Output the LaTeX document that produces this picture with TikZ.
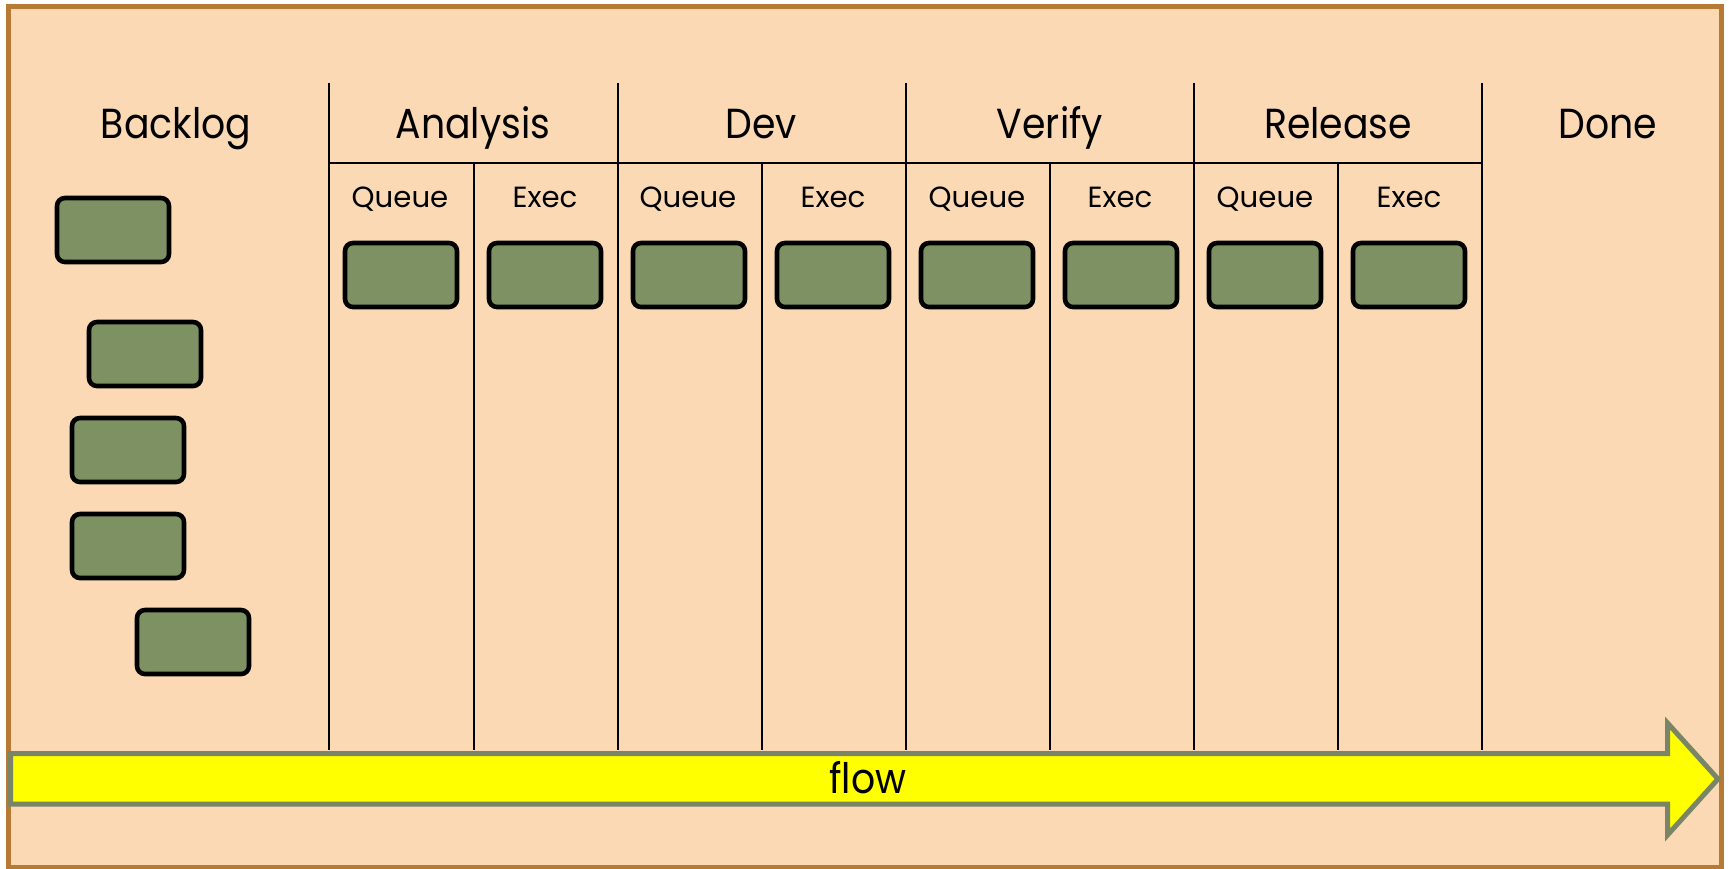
\documentclass[tikz,border=0pt]{standalone}
\usepackage{fontspec}
\setmainfont{Poppins}
\newfontfamily\stagefont[FakeStretch=0.9]{Poppins}
\definecolor{boardfill}{HTML}{FAD9B4}
\definecolor{boardline}{HTML}{B67A35}
\definecolor{cardfill}{HTML}{7E9163}
\definecolor{flowline}{HTML}{7A8566}
\definecolor{flowfill}{HTML}{FFFF00}
\tikzset{card/.style={draw,rounded corners=4pt,fill=cardfill,line width=2.3pt,minimum width=56pt,minimum height=32pt,inner sep=0pt}}
\tikzset{stage/.style={font=\stagefont\fontsize{21}{25}\selectfont,anchor=base,inner sep=0pt}}
\tikzset{sub/.style={font=\fontsize{14.6}{17}\selectfont,anchor=base,inner sep=0pt}}
\tikzset{lane/.style={line width=1pt}}

\begin{document}
\begin{tikzpicture}[x=0.5pt,y=-0.5pt]
        \useasboundingbox[fill=white] (0,0) rectangle (1729,868);
        \draw[boardline,fill=boardfill,line width=2.5pt] (8.5,6.5) rectangle (1721,867);

        % lanes
        \draw[lane] (328.5,83) -- (328.5,750);
        \draw[lane] (474,163) -- (474,750);
        \draw[lane] (617.5,83) -- (617.5,750);
        \draw[lane] (762,163) -- (762,750);
        \draw[lane] (905.5,83) -- (905.5,750);
        \draw[lane] (1050,163) -- (1050,750);
        \draw[lane] (1194,83) -- (1194,750);
        \draw[lane] (1338,163) -- (1338,750);
        \draw[lane] (1482,83) -- (1482,750);
        \draw[lane] (328.5,163) -- (1482,163);

        % stages
        \node[stage] (backlog) at (176,138) {Backlog};
        \node[stage] (analysis) at (473,138) {Analysis};
        \node[stage] (dev) at (761,138) {Dev};
        \node[stage] (verify) at (1050,138) {Verify};
        \node[stage] (release) at (1338,138) {Release};
        \node[stage] (done) at (1608,138) {Done};

        \node[sub] (aq) at (400,207) {Queue};
        \node[sub] (ae) at (545,207) {Exec};
        \node[sub] (dq) at (688,207) {Queue};
        \node[sub] (de) at (833,207) {Exec};
        \node[sub] (vq) at (977,207) {Queue};
        \node[sub] (ve) at (1120,207) {Exec};
        \node[sub] (rq) at (1265,207) {Queue};
        \node[sub] (re) at (1409,207) {Exec};

        % cards
        \node[card] (b1) at (113,230) {};
        \node[card] (b2) at (145,354) {};
        \node[card] (b3) at (128,450) {};
        \node[card] (b4) at (128,546) {};
        \node[card] (b5) at (193,642) {};

        \node[card] (c1) at (401,275) {};
        \node[card] (c2) at (545,275) {};
        \node[card] (c3) at (689,275) {};
        \node[card] (c4) at (833,275) {};
        \node[card] (c5) at (977,275) {};
        \node[card] (c6) at (1121,275) {};
        \node[card] (c7) at (1265,275) {};
        \node[card] (c8) at (1409,275) {};

        % flow arrow
        \draw[flowline,fill=flowfill,line width=2.5pt] (10.5,753.5) -- (1667.5,753.5) -- (1667.5,723)
            -- (1718,779) -- (1667.5,835) -- (1667.5,804) -- (10.5,804) -- cycle;
        \node[stage] (flow) at (868,793) {flow};
    \end{tikzpicture}
\end{document}
